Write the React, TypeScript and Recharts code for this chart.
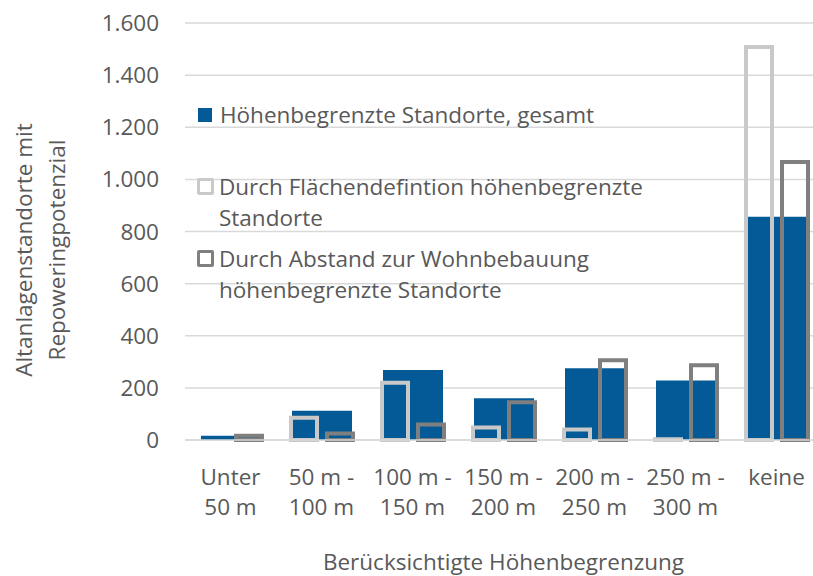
import { BarChart, Bar, XAxis, YAxis, CartesianGrid } from "recharts";

const categories = ["Unter 50 m", "50 m - 100 m", "100 m - 150 m", "150 m - 200 m", "200 m - 250 m", "250 m - 300 m", "keine"];
const tickLine1 = ["Unter", "50 m -", "100 m -", "150 m -", "200 m -", "250 m -", "keine"];
const tickLine2 = ["50 m", "100 m", "150 m", "200 m", "250 m", "300 m", ""];
const gesamt = [16, 112, 269, 160, 275, 228, 857];
const flaeche = [0, 85, 220, 48, 40, 3, 1508];
const abstand = [16, 25, 59, 145, 306, 287, 1067];
const yTicks = [0, 200, 400, 600, 800, 1000, 1200, 1400, 1600];

const data = categories.map((name, i) => ({
  name,
  gesamt: gesamt[i],
  flaeche: flaeche[i],
  abstand: abstand[i],
}));

const FONT = "'Open Sans', sans-serif";
const FS = 22.5;
const TXT = "#595959";
const BLUE = "#045A96";
const LIGHT = "#C9C9C9";
const DARK = "#7F7F7F";

const fmt = (v: number) => String(v).replace(/\B(?=(\d{3})+(?!\d))/g, ".");

function XTick({ x, y, payload }: any) {
  const i = payload.index;
  return (
    <text x={x} y={y} textAnchor="middle" fill={TXT} fontSize={FS} fontFamily={FONT}>
      <tspan x={x} dy={19}>{tickLine1[i]}</tspan>
      <tspan x={x} dy={30}>{tickLine2[i]}</tspan>
    </text>
  );
}

function YTick({ x, y, payload }: any) {
  return (
    <text x={x} y={y} dy={8} textAnchor="end" fill={TXT} fontSize={FS} fontFamily={FONT}>
      {fmt(payload.value)}
    </text>
  );
}

const legendItems = [
  { label: ["Höhenbegrenzte Standorte, gesamt"], kind: "fill", color: BLUE, gap: 40 },
  { label: ["Durch Flächendefintion höhenbegrenzte", "Standorte"], kind: "line", color: LIGHT, gap: 8.6 },
  { label: ["Durch Abstand zur Wohnbebauung", "höhenbegrenzte Standorte"], kind: "line", color: DARK, gap: 0 },
];

function LegendBox() {
  return (
    <div
      style={{
        position: "absolute",
        left: 197,
        top: 99,
        width: 460,
        fontFamily: FONT,
        fontSize: FS,
        color: TXT,
        lineHeight: "31.7px",
      }}
    >
      {legendItems.map((it) => (
        <div key={it.label[0]} style={{ display: "flex", alignItems: "flex-start", marginBottom: it.gap }}>
          <div
            style={{
              width: it.kind === "fill" ? 14 : 17,
              height: it.kind === "fill" ? 14 : 17,
              marginTop: it.kind === "fill" ? 9 : 7,
              marginRight: it.kind === "fill" ? 8 : 5,
              marginLeft: it.kind === "fill" ? 1 : 0,
              boxSizing: "border-box",
              background: it.kind === "fill" ? it.color : "transparent",
              border: it.kind === "fill" ? "none" : `3.5px solid ${it.color}`,
              borderRadius: it.kind === "fill" ? 0 : 2,
            }}
          />
          <div>
            {it.label.map((l) => (
              <div key={l}>{l}</div>
            ))}
          </div>
        </div>
      ))}
    </div>
  );
}

export default function App() {
  return (
    <div style={{ position: "fixed", left: 0, top: 0, width: 813, height: 576, overflow: "hidden", background: "#fff" }}>
      <BarChart width={822} height={576} data={data} margin={{ top: 23, right: 0, bottom: 0, left: 0 }} barGap={10}>
        <CartesianGrid vertical={false} stroke="#D9D9D9" strokeWidth={1.5} />
        <XAxis
          xAxisId="main"
          dataKey="name"
          height={136}
          tickLine={false}
          axisLine={{ stroke: "#D9D9D9", strokeWidth: 1.5 }}
          tickMargin={20}
          tick={<XTick />}
          interval={0}
          label={{
            value: "Berücksichtigte Höhenbegrenzung",
            position: "insideBottom",
            offset: 6,
            fill: TXT,
            fontSize: FS,
            fontFamily: FONT,
          }}
        />
        <XAxis xAxisId="total" dataKey="name" hide />
        <YAxis
          width={185}
          domain={[0, 1600]}
          ticks={yTicks}
          interval={0}
          tickLine={false}
          axisLine={false}
          tickMargin={20}
          tick={<YTick />}
          label={{
            content: () => (
              <text transform="rotate(-90, 32, 250)" x={32} y={250} textAnchor="middle" fill={TXT} fontSize={FS} fontFamily={FONT}>
                <tspan x={32} dy={0}>Altanlagenstandorte mit</tspan>
                <tspan x={32} dy={33}>Repoweringpotenzial</tspan>
              </text>
            ),
          }}
        />
        <Bar xAxisId="total" dataKey="gesamt" barSize={60} fill={BLUE} isAnimationActive={false} />
        <Bar xAxisId="main" dataKey="flaeche" barSize={26} fill="transparent" stroke={LIGHT} strokeWidth={4} isAnimationActive={false} />
        <Bar xAxisId="main" dataKey="abstand" barSize={26} fill="transparent" stroke={DARK} strokeWidth={4} isAnimationActive={false} />
      </BarChart>
      <LegendBox />
    </div>
  );
}
